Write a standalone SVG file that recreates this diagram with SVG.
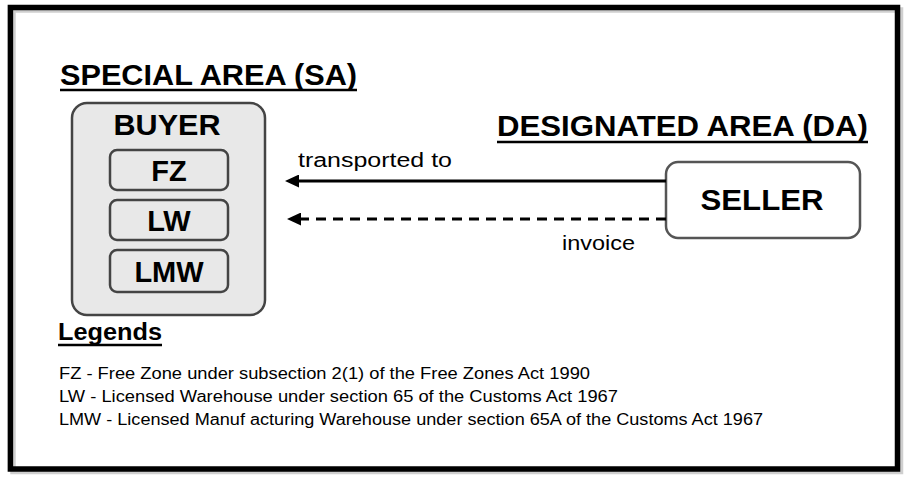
<svg xmlns="http://www.w3.org/2000/svg" width="908" height="482" viewBox="0 0 908 482">
<style>
text{font-family:"Liberation Sans",Arial,sans-serif;fill:#000}
.b{font-weight:bold}
.title{font-size:29px;font-weight:bold}
.node{font-size:29px;font-weight:bold;text-anchor:middle}
.lbl{font-size:20px}
.leg{font-size:16px}
.ul{stroke:#000;stroke-width:2.5}
.outer{fill:#e8e8e8;stroke:#444;stroke-width:2.5}
.inner{fill:#e8e8e8;stroke:#444;stroke-width:2.5}
.conn{stroke:#000;stroke-width:3;fill:none}
</style>
<defs>
<marker id="ah" markerUnits="userSpaceOnUse" viewBox="0 0 14 13" markerWidth="14" markerHeight="13" refX="4" refY="6.5" orient="auto">
<path d="M0,0 L14,6.5 L0,13 z" fill="#000"/>
</marker>
</defs>
<rect x="0" y="0" width="908" height="482" fill="#fff"/>
<rect x="13" y="10" width="887.5" height="461.5" fill="none" stroke="#cfcfcf" stroke-width="5.5"/>
<rect x="10.4" y="7.5" width="887.1" height="461.5" fill="none" stroke="#000" stroke-width="5.5"/>

<g id="title-sa">
<text class="title" x="60" y="85" textLength="297" lengthAdjust="spacingAndGlyphs">SPECIAL AREA (SA)</text>
<line class="ul" x1="60" y1="90" x2="357" y2="90"/>
</g>
<g id="title-da">
<text class="title" x="497" y="136" textLength="371" lengthAdjust="spacingAndGlyphs">DESIGNATED AREA (DA)</text>
<line class="ul" x1="497" y1="142" x2="868" y2="142"/>
</g>

<g id="buyer">
<rect class="outer" x="72" y="103" width="193" height="212" rx="15"/>
<text class="node" x="167" y="135" textLength="107" lengthAdjust="spacingAndGlyphs">BUYER</text>
</g>
<g id="fz">
<rect class="inner" x="110" y="150" width="118" height="40" rx="7"/>
<text class="node" x="169" y="180.5">FZ</text>
</g>
<g id="lw">
<rect class="inner" x="110" y="200" width="118" height="40" rx="7"/>
<text class="node" x="169" y="230.5">LW</text>
</g>
<g id="lmw">
<rect class="inner" x="110" y="250" width="118" height="42" rx="7"/>
<text class="node" x="169" y="281.5">LMW</text>
</g>

<g id="seller">
<rect x="666" y="162" width="194" height="76" rx="12" fill="#fff" stroke="#555" stroke-width="2.5"/>
<text class="node" x="762" y="210" textLength="123" lengthAdjust="spacingAndGlyphs">SELLER</text>
</g>

<g id="connectors">
<line class="conn" x1="666" y1="181" x2="295" y2="181" marker-end="url(#ah)"/>
<line class="conn" x1="666" y1="219" x2="297" y2="219" stroke-dasharray="10 7" marker-end="url(#ah)"/>
<text class="lbl" x="298" y="167" textLength="154" lengthAdjust="spacingAndGlyphs">transported to</text>
<text class="lbl" x="562" y="250" textLength="73" lengthAdjust="spacingAndGlyphs">invoice</text>
</g>

<g id="legend">
<text class="b" x="58" y="340" font-size="23" textLength="104" lengthAdjust="spacingAndGlyphs">Legends</text>
<line class="ul" x1="58" y1="345" x2="162" y2="345"/>
<text class="leg" x="59" y="379" textLength="531" lengthAdjust="spacingAndGlyphs">FZ - Free Zone under subsection 2(1) of the Free Zones Act 1990</text>
<text class="leg" x="59" y="402" textLength="559" lengthAdjust="spacingAndGlyphs">LW - Licensed Warehouse under section 65 of the Customs Act 1967</text>
<text class="leg" x="59" y="425" textLength="704" lengthAdjust="spacingAndGlyphs">LMW - Licensed Manuf acturing Warehouse under section 65A of the Customs Act 1967</text>
</g>
</svg>
